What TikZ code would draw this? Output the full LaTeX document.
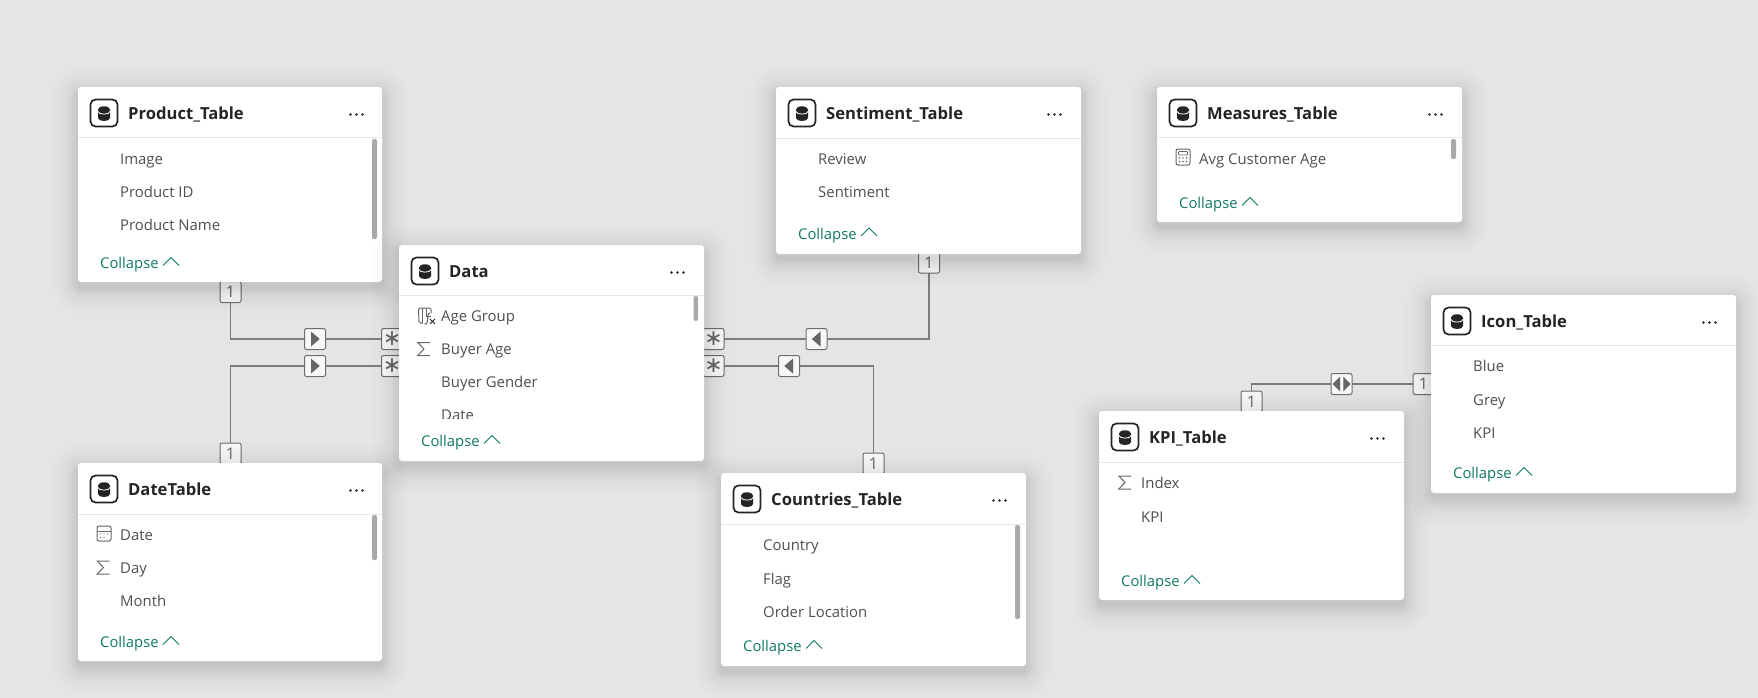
\documentclass[tikz,border=0pt]{standalone}
\usepackage{fontspec}
\setmainfont{Open Sans}
\newfontfamily\symfont{DejaVu Sans}
\usetikzlibrary{calc}
\pgfdeclarelayer{wires}
\pgfsetlayers{wires,main}
\definecolor{canvas}{HTML}{E5E5E5}
\definecolor{inktext}{HTML}{505050}
\definecolor{inktitle}{HTML}{252423}
\definecolor{teal}{HTML}{117865}
\definecolor{rulec}{HTML}{E8E8E8}
\definecolor{wirec}{HTML}{7C7C7C}
\definecolor{badgeb}{HTML}{6E6E6E}
\definecolor{badgef}{HTML}{F7F7F7}
\definecolor{scrollc}{HTML}{A9A9A9}
\definecolor{glyphc}{HTML}{666666}
\tikzset{
  x=1pt,y=-1pt,
  tablebox/.style={fill=white,rounded corners=3pt,anchor=north west,inner sep=0pt,outer sep=0pt},
  titlelabel/.style={anchor=base west,inner sep=0pt,text=inktitle,font=\bfseries\fontsize{16.6}{20}\selectfont},
  rowlabel/.style={anchor=base west,inner sep=0pt,text=inktext,font=\fontsize{14.9}{17}\selectfont},
  collapselabel/.style={anchor=base west,inner sep=0pt,text=teal,font=\fontsize{14.8}{17}\selectfont},
  badge/.style={draw=badgeb,fill=badgef,line width=1pt,rounded corners=2pt,minimum width=21pt,minimum height=21pt,inner sep=0pt,outer sep=0pt,text=glyphc},
  onebadge/.style={badge,font=\fontsize{16}{16}\selectfont},
  starbadge/.style={badge,font=\symfont\fontsize{22}{22}\selectfont},
  link/.style={draw=wirec,line width=1.3pt},
  tri/.style={fill=glyphc},
  scrollthumb/.style={fill=scrollc,rounded corners=2pt},
  iconline/.style={draw=glyphc,line width=1pt},
}
% id, x, y, w, h, rule offset, title, collapse centre offset
\newcommand{\tbl}[8]{%
  \foreach \i in {0,1,2,3,4,5,6,7,8,10,12,14,16,19,22,26}{\fill[black,opacity=.0095,rounded corners={(4+\i)*1pt}] ({#2-\i},{#3-\i+6}) rectangle ({#2+#4+\i},{#3+#5+\i+6});}
  \node[tablebox,minimum width=#4 pt,minimum height=#5 pt] (#1) at (#2,#3) {};
  \begin{scope}[shift={(#2,#3)}]
    \draw[rulec,line width=1pt] (0,#6) -- (#4,#6);
    \draw[inktitle,line width=1.7pt,rounded corners=5pt] (12.5,12.5) rectangle (39.5,39.5);
    \fill[inktitle] (20,23) -- (20,31) .. controls (20,35) and (32,35) .. (32,31) -- (32,23) -- cycle;
    \fill[inktitle] (26,22.5) ellipse [x radius=6pt,y radius=3.2pt];
    \draw[white,line width=.8pt] (20,24.5) .. controls (20,28) and (32,28) .. (32,24.5);
    \node[titlelabel] (#1-title) at (50,32.5) {#7};
    \foreach \d in {-6,0,6}{\fill[inktitle] ({278.5+\d},27.5) circle (1.3pt);}
    \node[collapselabel] (#1-collapse) at (22,{#8+5.5}) {Collapse};
    \draw[teal,line width=.9pt] (85,{#8+2.5}) -- (93,{#8-5.5}) -- (101,{#8+2.5});
  \end{scope}
}
\newcommand{\rw}[4]{\node[rowlabel] (#1) at (#2,{#3+5.6}) {#4};}
\newcommand{\thumb}[4]{\fill[scrollthumb] (#1,#2) rectangle (#3,#4);}
\newcommand{\triR}[1]{\fill[tri] ($(#1)+(-4,-7.5)$) -- ($(#1)+(4.7,0)$) -- ($(#1)+(-4,7.5)$) -- cycle;}
\newcommand{\triL}[1]{\fill[tri] ($(#1)+(4,-7.5)$) -- ($(#1)+(-4.7,0)$) -- ($(#1)+(4,7.5)$) -- cycle;}
\newcommand{\sigmaicon}[2]{\begin{scope}[shift={(#1,#2)}]\draw[glyphc,line width=1pt,miter limit=10] (13,1.5) -- (0.8,1.5) -- (7,8) -- (0.8,14.5) -- (13,14.5);\end{scope}}
\begin{document}
\begin{tikzpicture}
\useasboundingbox (0,0) rectangle (1758,698);
\begin{pgfonlayer}{wires}
\fill[canvas] (0,0) rectangle (1758,698);
\end{pgfonlayer}

% badges
\node[onebadge] (pOne) at (230.5,292) {1};
\node[onebadge] (dOne) at (230.5,453.5) {1};
\node[badge] (pDir) at (315,339) {};
\node[badge] (dDir) at (315,366) {};
\node[starbadge] (pStar) at (392,339) {∗};
\node[starbadge] (dStar) at (392,366) {∗};
\node[starbadge] (sStar) at (713.5,339) {∗};
\node[starbadge] (cStar) at (713.5,366) {∗};
\node[badge] (sDir) at (816.5,339) {};
\node[badge] (cDir) at (789,366) {};
\node[onebadge] (sOne) at (929,262.5) {1};
\node[onebadge] (cOne) at (873.5,463.5) {1};
\node[onebadge] (kOne) at (1251.5,401.5) {1};
\node[badge] (kDir) at (1341.5,384) {};
\node[onebadge] (iOne) at (1423.5,384) {1};
\triR{pDir}\triR{dDir}\triL{sDir}\triL{cDir}
\fill[tri] ($(kDir)+(-1.5,-7.5)$) -- ($(kDir)+(-9,0)$) -- ($(kDir)+(-1.5,7.5)$) -- cycle;
\fill[tri] ($(kDir)+(1.8,-7.5)$) -- ($(kDir)+(9,0)$) -- ($(kDir)+(1.8,7.5)$) -- cycle;

\begin{pgfonlayer}{wires}
\draw[link] (pOne) |- (pDir) -- (pStar);
\draw[link] (dOne) |- (dDir) -- (dStar);
\draw[link] (sStar) -- (sDir) -| (sOne);
\draw[link] (cStar) -- (cDir) -| (cOne);
\draw[link] (kOne) |- (kDir) -- (iOne);
\end{pgfonlayer}

% Product_Table
\tbl{tProduct}{78}{87}{304}{195}{51}{Product\_Table}{176}
\rw{p1}{120}{159}{Image}
\rw{p2}{120}{192}{Product ID}
\rw{p3}{120}{225}{Product Name}
\thumb{372}{139}{377}{239}

% Data
\tbl{tData}{399}{245}{305}{216}{50}{Data}{196}
\rw{a1}{441}{316}{Age Group}
\rw{a2}{441}{349}{Buyer Age}
\rw{a3}{441}{382}{Buyer Gender}
\begin{scope}
\clip (430,400) rectangle (600,418);
\rw{a4}{441}{415}{Date}
\end{scope}
\thumb{693.5}{296}{698}{321}
\sigmaicon{417}{341}
% calculated column icon
\draw[iconline,rounded corners=1.5pt] (423,323) -- (419,323) -- (418.5,308) -- (431,308) -- (431,313);
\draw[iconline,line width=.7pt] (422.5,308) -- (422.5,323) (426.5,308) -- (426.5,316);
\draw[glyphc,line width=1.1pt] (430,313) .. controls (428,312.5) and (428,316) .. (427.5,320) .. controls (427,324) and (426,325) .. (424.5,324);
\draw[glyphc,line width=.9pt] (426,316.5) -- (431,316.5);
\draw[inktitle,line width=1pt] (430,319) -- (435,324) (435,319) -- (430,324);

% DateTable
\tbl{tDate}{78}{463}{304}{198}{51}{DateTable}{179}
\rw{d1}{120}{534.5}{Date}
\rw{d2}{120}{568}{Day}
\rw{d3}{120}{601}{Month}
\thumb{372}{515}{377}{560}
\sigmaicon{96.5}{559.5}
\draw[iconline,rounded corners=2pt] (97,526) rectangle (111,541);
\draw[iconline] (97,531) -- (111,531);
\foreach \px in {100.5,104,107.5}{\fill[glyphc] (\px,534) circle (.6pt);}
\foreach \px in {100.5,104}{\fill[glyphc] (\px,537.5) circle (.6pt);}

% Sentiment_Table
\tbl{tSentiment}{776}{87}{305}{167}{52}{Sentiment\_Table}{146.5}
\rw{s1}{818}{159}{Review}
\rw{s2}{818}{192}{Sentiment}

% Measures_Table
\tbl{tMeasures}{1157}{87}{305}{135}{51}{Measures\_Table}{116}
\rw{m1}{1199}{159}{Avg Customer Age}
\thumb{1451}{139}{1456}{159}
\draw[iconline,rounded corners=2pt] (1176,149) rectangle (1190,165);
\draw[iconline,line width=.8pt,rounded corners=.8pt] (1178.5,151.5) rectangle (1187.5,155);
\foreach \px in {1179.5,1183,1186.5}{\foreach \py in {158,161.5}{\fill[glyphc] (\px,\py) circle (.85pt);}}

% Countries_Table
\tbl{tCountries}{721}{473}{305}{193}{51}{Countries\_Table}{173}
\rw{c1}{763}{545}{Country}
\rw{c2}{763}{579}{Flag}
\rw{c3}{763}{612}{Order Location}
\thumb{1015}{525}{1020}{619}

% KPI_Table
\tbl{tKPI}{1099}{411}{305}{189}{51}{KPI\_Table}{170}
\rw{k1}{1141}{482.5}{Index}
\rw{k2}{1141}{516.5}{KPI}
\sigmaicon{1118}{474.5}

% Icon_Table
\tbl{tIcon}{1431}{295}{305}{198}{50}{Icon\_Table}{178}
\rw{i1}{1473}{366}{Blue}
\rw{i2}{1473}{399.5}{Grey}
\rw{i3}{1473}{433}{KPI}
\end{tikzpicture}
\end{document}
